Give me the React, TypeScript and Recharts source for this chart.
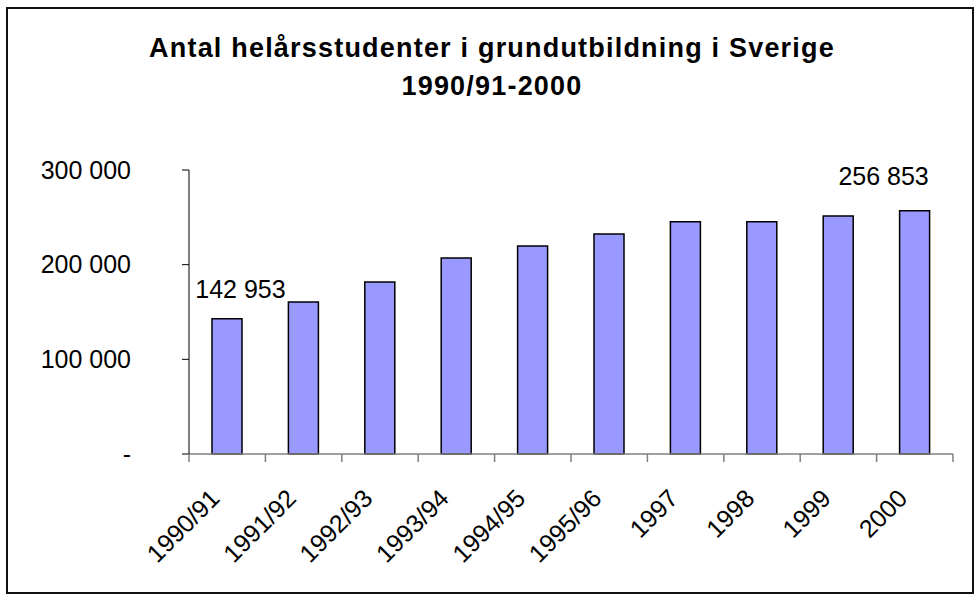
import React from "react"
import { BarChart, Bar, XAxis, YAxis, LabelList } from "recharts"

const categories = ["1990/91", "1991/92", "1992/93", "1993/94", "1994/95", "1995/96", "1997", "1998", "1999", "2000"]
const students = [142953, 160600, 181700, 207000, 219700, 232400, 245400, 245400, 251400, 256853]
const yTicks = [0, 100000, 200000, 300000]
const titleLines = ["Antal helårsstudenter i grundutbildning i Sverige", "1990/91-2000"]

const data = categories.map((c, i) => ({ name: c, value: students[i] }))

const FONT = "'Liberation Sans', Arial, sans-serif"
const fmt = (v: number) => (v === 0 ? "-" : v.toLocaleString("en-US").replace(/,/g, " "))

const BAND = 76.4

const XTick = (props: any) => {
  const { x, y, payload, index } = props
  const last = index === categories.length - 1
  return (
    <g>
      <line x1={x - BAND / 2} x2={x - BAND / 2} y1={y - 8} y2={y} stroke="#808080" strokeWidth={1.5} />
      {last && <line x1={x + BAND / 2} x2={x + BAND / 2} y1={y - 8} y2={y} stroke="#808080" strokeWidth={1.5} />}
      <text
        x={0}
        y={0}
        transform={`translate(${x - 6},${y + 38}) rotate(-45)`}
        textAnchor="end"
        fontSize={25}
        fontFamily={FONT}
        fill="#000"
      >
        {payload.value}
      </text>
    </g>
  )
}

const YTick = (props: any) => {
  const { x, y, payload } = props
  return (
    <text x={x - 51} y={y} dy="0.35em" textAnchor="end" fontSize={25} fontFamily={FONT} fill="#000">
      {fmt(payload.value)}
    </text>
  )
}

// only first and last bar carry a value label in the original
const labelOffsets: Record<number, [number, number]> = { 0: [13.5, -21], 9: [-31, -26] }

const ValueLabel = (props: any) => {
  const { x, y, width, index, value } = props
  const off = labelOffsets[index]
  if (!off) return null
  return (
    <text x={x + width / 2 + off[0]} y={y + off[1]} textAnchor="middle" fontSize={25} fontFamily={FONT} fill="#000">
      {fmt(value)}
    </text>
  )
}

export default function App() {
  return (
    <div style={{ position: "absolute", left: 0, top: 0, width: 974, height: 595, background: "#fff" }}>
      <svg width={974} height={595} style={{ position: "absolute", left: 0, top: 0 }}>
        <rect x={7} y={8} width={966} height={585} fill="#fff" stroke="#111" strokeWidth={2} />
        {titleLines.map((t, i) => (
          <text
            key={i}
            x={492}
            y={57 + i * 38}
            textAnchor="middle"
            fontSize={27}
            fontWeight="bold"
            letterSpacing={1.2}
            fontFamily={FONT}
            fill="#000"
          >
            {t}
          </text>
        ))}
      </svg>
      <div style={{ position: "absolute", left: 0, top: 0 }}>
        <BarChart width={974} height={595} data={data} margin={{ top: 170, right: 21, bottom: 0, left: 0 }}>
          <XAxis
            dataKey="name"
            height={141}
            tick={<XTick />}
            tickLine={false}
            tickSize={8}
            tickMargin={0}
            interval={0}
            axisLine={{ stroke: "#808080", strokeWidth: 1.5 }}
          />
          <YAxis
            width={189}
            domain={[0, 300000]}
            ticks={yTicks}
            tick={<YTick />}
            tickSize={7}
            tickMargin={0}
            tickLine={{ stroke: "#000", strokeWidth: 1 }}
            axisLine={{ stroke: "#000", strokeWidth: 1 }}
            interval={0}
          />
          <Bar dataKey="value" fill="#9999FF" stroke="#000" strokeWidth={1.5} barSize={30} isAnimationActive={false}>
            <LabelList dataKey="value" content={<ValueLabel />} />
          </Bar>
        </BarChart>
      </div>
    </div>
  )
}
